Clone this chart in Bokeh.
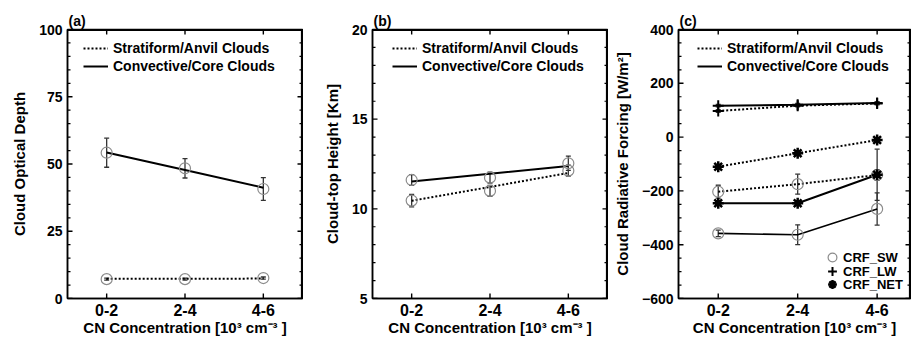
import numpy as np
from bokeh.plotting import figure
from bokeh.layouts import row
from bokeh.models import (ColumnDataSource, Whisker, TeeHead, Legend, LegendItem,
                          Title, LinearAxis, FixedTicker, SingleIntervalTicker, Range1d)
from bokeh.embed import file_html
from bokeh.resources import INLINE

# ---------------- data ----------------
categories = ["0-2", "2-4", "4-6"]

# (a) cloud optical depth
cod_conv = [54.2, 48.4, 40.7]
cod_conv_err = [5.4, 3.6, 4.2]
cod_conv_line = [54.3, 47.8, 41.2]
cod_strat = [7.2, 7.2, 7.6]
cod_strat_err = [0.4, 0.4, 0.4]
cod_strat_line = [7.3, 7.35, 7.4]

# (b) cloud-top height [km]
cth_conv = [11.61, 11.74, 12.54]
cth_conv_err = [0.3, 0.3, 0.4]
cth_conv_line = [11.52, 11.95, 12.39]
cth_strat = [10.46, 11.0, 12.13]
cth_strat_err = [0.35, 0.3, 0.3]
cth_strat_line = [10.45, 11.22, 12.0]

# (c) cloud radiative forcing [W/m2]
sw_conv = [-358, -363, -267]
sw_conv_err = [12, 37, 60]
sw_strat = [-203, -175, -141]
sw_strat_err = [24, 37, 20]
lw_conv = [117, 120, 127]
lw_conv_err = [5, 5, 5]
lw_strat = [97, 117, 125]
lw_strat_err = [5, 5, 5]
net_conv = [-246, -246, -140]
net_conv_err = [8, 8, 95]
net_strat = [-110, -60, -11]
net_strat_err = [8, 8, 8]

x_label = "CN Concentration [10³ cm⁻³ ]"
FONT = "Liberation Sans"
xs = list(range(1, len(categories) + 1))
GRAY = "#8c8c8c"
ERRC = "#333333"
FRAME_H = 270


def make_fig(width, left, right, x_end, y_start, y_end, interval, nminor, ylabel, tag):
    x_start = 0.5
    p = figure(width=width, height=338, x_range=Range1d(x_start, x_end),
               y_range=Range1d(y_start, y_end), output_backend="svg",
               toolbar_location=None, min_border_left=left, min_border_right=right,
               min_border_top=29, min_border_bottom=39, x_axis_type=None, y_axis_type=None)
    p.grid.visible = False
    p.outline_line_color = "black"
    p.outline_line_width = 1.5

    yt = SingleIntervalTicker(interval=interval, num_minor_ticks=nminor)
    xt = FixedTicker(ticks=xs)
    ly = LinearAxis(ticker=yt, axis_label=ylabel)
    bx = LinearAxis(ticker=xt, axis_label=x_label)
    bx.major_label_overrides = {i: c for i, c in zip(xs, categories)}
    for ax in (ly, bx):
        ax.major_tick_in = 0
        ax.major_tick_out = 0
        ax.minor_tick_in = 0
        ax.minor_tick_out = 0
        ax.axis_line_color = "black"
        ax.axis_line_width = 1.5
        ax.major_label_text_font = FONT
        ax.major_label_text_font_style = "bold"
        ax.axis_label_text_font = FONT
        ax.axis_label_text_font_style = "bold"
        ax.axis_label_text_font_size = "15px"
        ax.axis_label_text_color = "black"
        ax.major_label_text_color = "black"
    ly.major_label_text_font_size = "14px"
    ly.major_label_standoff = 5
    ly.axis_label_standoff = 8
    bx.major_label_text_font_size = "16px"
    bx.major_label_standoff = 5
    bx.axis_label_standoff = 0
    p.add_layout(ly, "left")
    p.add_layout(bx, "below")
    p.add_layout(Title(text=tag, align="left", offset=1, standoff=2,
                       text_font=FONT, text_font_style="bold",
                       text_font_size="14px", text_color="black"), "above")

    # screen-pixel sizes expressed in data units (for frame edges and inward ticks)
    frame_w = width - left - right
    dx = (x_end - x_start) / frame_w
    dy = (y_end - y_start) / FRAME_H

    # top and right frame edges, drawn just inside the frame
    p.segment(x0=[x_start, x_end - 0.8 * dx], y0=[y_end - 0.8 * dy, y_start],
              x1=[x_end, x_end - 0.8 * dx], y1=[y_end - 0.8 * dy, y_end],
              line_color="black", line_width=1.6)

    majors = np.arange(y_start, y_end + interval / 2, interval)
    step = interval / nminor
    minors = np.array([v for v in np.arange(y_start, y_end + step / 2, step)
                       if not np.any(np.isclose(v, majors))])
    # left / right inward y ticks
    for xe, sgn in ((x_start, 1), (x_end, -1)):
        p.segment(x0=[xe] * len(majors), y0=majors,
                  x1=[xe + sgn * 5 * dx] * len(majors), y1=majors,
                  line_color="black", line_width=1.4)
        p.segment(x0=[xe] * len(minors), y0=minors,
                  x1=[xe + sgn * 3 * dx] * len(minors), y1=minors,
                  line_color="black", line_width=1.2)
    # bottom / top inward x ticks
    for ye, sgn in ((y_start, 1), (y_end, -1)):
        p.segment(x0=xs, y0=[ye] * len(xs), x1=xs, y1=[ye + sgn * 5 * dy] * len(xs),
                  line_color="black", line_width=1.4)
    return p


def errbars(p, vals, errs):
    v = np.array(vals, dtype=float)
    e = np.array(errs, dtype=float)
    src = ColumnDataSource(dict(x=xs, lo=v - e, hi=v + e))
    p.add_layout(Whisker(source=src, base="x", lower="lo", upper="hi",
                         line_color=ERRC, line_width=1.3,
                         upper_head=TeeHead(size=5, line_color=ERRC, line_width=1.3),
                         lower_head=TeeHead(size=5, line_color=ERRC, line_width=1.3)))


def series_legend(p, r_strat, r_conv, x_off):
    leg = Legend(items=[LegendItem(label="Stratiform/Anvil Clouds", renderers=[r_strat]),
                        LegendItem(label="Convective/Core Clouds", renderers=[r_conv])],
                 location=(x_off, 223), orientation="vertical",
                 background_fill_alpha=0, border_line_color=None,
                 label_text_font=FONT, label_text_font_style="bold",
                 label_text_font_size="14px", label_text_color="black",
                 glyph_width=25, glyph_height=18, label_height=18,
                 spacing=0, padding=0, margin=0, label_standoff=5)
    p.add_layout(leg)


def marker_legend(p, label, renderer, y_off):
    leg = Legend(items=[LegendItem(label=label, renderers=[renderer])],
                 location=(143, y_off), orientation="vertical",
                 background_fill_alpha=0, border_line_color=None,
                 label_text_font=FONT, label_text_font_style="bold",
                 label_text_font_size="13px", label_text_color="black",
                 glyph_width=22, glyph_height=22, label_height=13,
                 spacing=0, padding=0, margin=0, label_standoff=0)
    p.add_layout(leg)


# ---------------- (a) ----------------
pa = make_fig(303, 67, 1, 3.5, 0, 100, 25, 5, "Cloud Optical Depth", "(a)")
ra_s = pa.line(xs, cod_strat_line, line_color="black", line_width=2, line_dash="2 2")
ra_c = pa.line(xs, cod_conv_line, line_color="black", line_width=2)
errbars(pa, cod_strat, cod_strat_err)
errbars(pa, cod_conv, cod_conv_err)
pa.scatter(xs, cod_strat, marker="circle", size=11, fill_color=None, line_color=GRAY, line_width=1.2)
pa.scatter(xs, cod_conv, marker="circle", size=11, fill_color=None, line_color=GRAY, line_width=1.2)
series_legend(pa, ra_s, ra_c, 16)

# ---------------- (b) ----------------
pb = make_fig(305, 69, 1, 3.5, 5, 20, 5, 5, "Cloud-top Height [Km]", "(b)")
rb_s = pb.line(xs, cth_strat_line, line_color="black", line_width=2, line_dash="2 2")
rb_c = pb.line(xs, cth_conv_line, line_color="black", line_width=2)
errbars(pb, cth_strat, cth_strat_err)
errbars(pb, cth_conv, cth_conv_err)
pb.scatter(xs, cth_strat, marker="circle", size=11, fill_color=None, line_color=GRAY, line_width=1.2)
pb.scatter(xs, cth_conv, marker="circle", size=11, fill_color=None, line_color=GRAY, line_width=1.2)
series_legend(pb, rb_s, rb_c, 20)

# ---------------- (c) ----------------
pc = make_fig(303, 70, 1, 3.42, -600, 400, 200, 4, "Cloud Radiative Forcing [W/m²]", "(c)")
rc_s = pc.line(xs, lw_strat, line_color="black", line_width=2, line_dash="2 2")
for vals in (net_strat, sw_strat):
    pc.line(xs, vals, line_color="black", line_width=2, line_dash="2 2")
rc_c = pc.line(xs, lw_conv, line_color="black", line_width=2)
pc.line(xs, net_conv, line_color="black", line_width=2)
pc.line(xs, sw_conv, line_color="black", line_width=1.6)
for vals, errs in ((lw_strat, lw_strat_err), (lw_conv, lw_conv_err),
                   (net_strat, net_strat_err), (net_conv, net_conv_err),
                   (sw_strat, sw_strat_err), (sw_conv, sw_conv_err)):
    errbars(pc, vals, errs)
r_sw = None
for vals in (sw_strat, sw_conv):
    r_sw = pc.scatter(xs, vals, marker="circle", size=11, fill_color=None, line_color=GRAY, line_width=1.2)
r_lw = None
for vals in (lw_strat, lw_conv):
    r_lw = pc.scatter(xs, vals, marker="cross", size=11, line_color="black", line_width=2)
r_net = None
for vals in (net_strat, net_conv):
    r_net = pc.scatter(xs, vals, marker="asterisk", size=11, line_color="black", line_width=2.5)

series_legend(pc, rc_s, rc_c, 19)
marker_legend(pc, "CRF_SW", r_sw, 30)
marker_legend(pc, "CRF_LW", r_lw, 16)
marker_legend(pc, "CRF_NET", r_net, 3)

layout = row(pa, pb, pc, spacing=0)
open("out.html", "w").write(file_html(layout, INLINE))
